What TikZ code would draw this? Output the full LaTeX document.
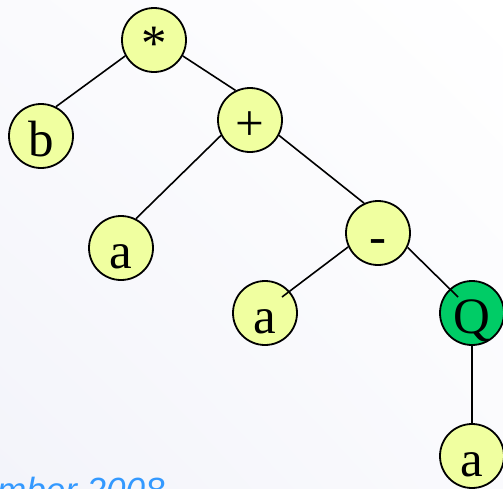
\documentclass[tikz,border=0pt]{standalone}
\usepackage{fontspec}
\setmainfont{Liberation Serif}
\setsansfont{Liberation Sans}
\usetikzlibrary{calc,shadings}

\definecolor{leaf}{RGB}{240,255,160}
\definecolor{qgreen}{RGB}{0,204,102}
\definecolor{footblue}{RGB}{51,153,255}
\definecolor{bgA}{RGB}{243,244,250}
\definecolor{bgB}{RGB}{250,250,253}

\tikzset{
  treenode/.style={circle, draw=black, line width=1.8pt, fill=leaf,
    minimum size=64pt, inner sep=0pt,
    font=\fontsize{51}{60}\selectfont, text height=41pt, text depth=0pt},
  qnode/.style={treenode, fill=qgreen},
  branch/.style={line width=1.6pt, draw=black},
  footer/.style={font=\fontsize{35}{40}\selectfont\sffamily\itshape,
    text=footblue, inner sep=0pt, anchor=base west}
}

\begin{document}
\begin{tikzpicture}[x=1pt, y=-1pt]
  % page area and soft background
  \useasboundingbox (0,0) rectangle (503,488);
  \clip (0,0) rectangle (503,488);
  \shade[upper right=white, upper left=bgB, lower right=bgB, lower left=bgA]
    (0,0) rectangle (503,488);

  % footer date, partly cut by the page edge
  \node[footer] (date) at (-3,502) {mber 2008};

  % expression tree
  \node[treenode] (star)  at (154,40)  {*};
  \node[treenode] (b)     at (41,136)  {b};
  \node[treenode] (plus)  at (250,120) {+};
  \node[treenode] (a1)    at (121,248) {a};
  \node[treenode] (minus) at (378,233) {-};
  \node[treenode] (a2)    at (265,313) {a};
  \node[qnode]    (Q)     at (472,313) {Q};
  \node[treenode] (a3)    at (472,456) {a};

  % branches
  \draw[branch] (star.-151) -- (b.63);
  \draw[branch] (star.-29) -- (plus.116);
  \draw[branch] (plus.-152) -- (a1.63);
  \draw[branch] (plus.-28) -- (minus.115);
  \draw[branch] (minus.-155) -- ($(a2)+(17,-16)$);
  \draw[branch] (minus.-26) -- ($(Q)+(-14,-16)$);
  \draw[branch] (Q.south) -- (a3.north);
\end{tikzpicture}
\end{document}
